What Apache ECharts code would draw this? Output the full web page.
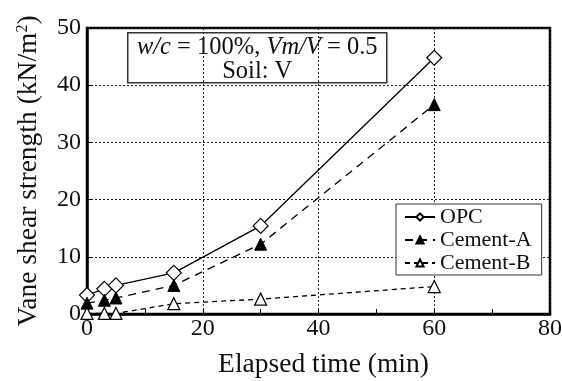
<!DOCTYPE html>
<html>
<head>
<meta charset="utf-8">
<script src="https://cdn.jsdelivr.net/npm/echarts@6/dist/echarts.min.js"></script>
<style>
  html, body { margin: 0; padding: 0; background: #fff; }
  #chart { width: 562px; height: 381px; }
</style>
</head>
<body>
<div id="chart"></div>
<script>
const times = [0, 3, 5, 15, 30, 60]
const opc = [3.3, 4.4, 5.0, 7.2, 15.4, 44.8]
const cementA = [1.9, 2.4, 2.8, 5.0, 12.2, 36.6]
const cementB = [0.1, 0.1, 0.1, 1.8, 2.6, 4.8]
const xTicks = [0, 20, 40, 60, 80]
const yTicks = [0, 10, 20, 30, 40, 50]

const font = 'Liberation Serif'
const pairs = (ys) => times.map((t, i) => [t, ys[i]])

const chart = echarts.init(document.getElementById('chart'), null, { renderer: 'canvas' })

const axisCommon = {
    axisLine: { show: true, onZero: false, lineStyle: { color: '#000', width: 2.5 } },
    axisTick: { show: true, inside: true, length: 5, lineStyle: { color: '#000' } },
    splitLine: { show: true, lineStyle: { color: '#222', type: [2, 2], width: 1 } },
    axisLabel: { color: '#111', fontFamily: font, fontSize: 24 },
    nameTextStyle: { color: '#111', fontFamily: font, fontSize: 27.5 },
}

chart.setOption({
    animation: false,
    backgroundColor: '#fff',
    grid: {
        left: 87, right: 12, top: 28, bottom: 67,
        outerBoundsMode: 'none',
        show: true, borderColor: '#000', borderWidth: 2.5,
    },
    xAxis: {
        ...axisCommon,
        type: 'value',
        min: xTicks[0], max: xTicks[xTicks.length - 1], interval: 20,
        name: 'Elapsed time (min)', nameLocation: 'middle', nameGap: 37,
        nameTextStyle: { ...axisCommon.nameTextStyle, padding: [0, 0, 0, 10] },
        minorTick: { show: true, splitNumber: 2, length: 5, lineStyle: { color: '#000' } },
        axisLabel: { ...axisCommon.axisLabel, margin: 3 },
    },
    yAxis: {
        ...axisCommon,
        type: 'value',
        min: yTicks[0], max: yTicks[yTicks.length - 1], interval: 10,
        name: 'Vane shear strength (kN/m{sup|2})', nameLocation: 'middle', nameGap: 44,
        nameTextStyle: {
            ...axisCommon.nameTextStyle,
            rich: { sup: { fontFamily: font, fontSize: 16, verticalAlign: 'top', padding: [0, 0, 12, 0] } },
        },
        axisLabel: { ...axisCommon.axisLabel, margin: 6 },
    },
    legend: {
        orient: 'vertical', left: 396, top: 204,
        backgroundColor: '#fff',
        borderColor: '#333', borderWidth: 1,
        padding: [2, 10, 1, 8], itemGap: 1,
        itemWidth: 30, itemHeight: 9,
        textStyle: { color: '#111', fontFamily: font, fontSize: 22, padding: [0, 0, 0, 0] },
        data: ['OPC', 'Cement-A', 'Cement-B'],
    },
    graphic: [{
        type: 'group', left: 127, top: 32,
        children: [
            { type: 'rect', shape: { x: 0, y: 0, width: 259, height: 50 },
              style: { fill: '#fff', stroke: '#333', lineWidth: 1.5 } },
            { type: 'text', x: 129.5, y: 3,
              style: {
                  text: '{i|w/c} = 100%, {i|Vm/V} = 0.5\nSoil: V',
                  fill: '#111', font: '24.5px ' + font, align: 'center', lineHeight: 24,
                  rich: { i: { fontStyle: 'italic', fontFamily: font, fontSize: 24.5, lineHeight: 24 } },
              } },
        ],
    }],
    series: [
        {
            name: 'OPC', type: 'line', clip: false, data: pairs(opc),
            symbol: 'diamond', symbolSize: 15,
            itemStyle: { color: '#fff', borderColor: '#000', borderWidth: 1.2 },
            lineStyle: { color: '#000', width: 1.3 },
        },
        {
            name: 'Cement-A', type: 'line', clip: false, data: pairs(cementA),
            symbol: 'triangle', symbolSize: 12,
            itemStyle: { color: '#000', borderColor: '#000', borderWidth: 1 },
            lineStyle: { color: '#000', width: 1.3, type: [8, 6] },
        },
        {
            name: 'Cement-B', type: 'line', clip: false, data: pairs(cementB),
            symbol: 'triangle', symbolSize: 12,
            itemStyle: { color: '#fff', borderColor: '#000', borderWidth: 1.2 },
            lineStyle: { color: '#000', width: 1.3, type: [5, 4] },
        },
    ],
})
</script>
</body>
</html>
